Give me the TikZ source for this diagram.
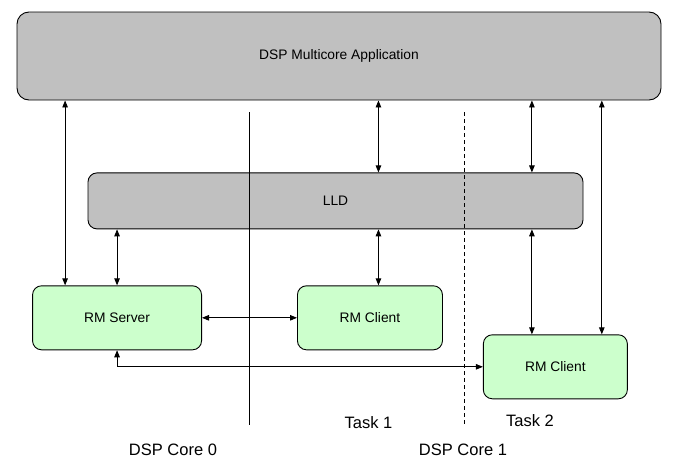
\documentclass[tikz,border=0pt]{standalone}
\usepackage{fontspec}
\setmainfont{Liberation Sans}
\usepackage{tikz}
\usetikzlibrary{positioning}
\usetikzlibrary{arrows.meta}
\tikzset{>={Triangle[width=5.5pt,length=7pt]}}
\definecolor{boxgray}{HTML}{C0C0C0}
\definecolor{boxgreen}{HTML}{CCFFCC}

\begin{document}
\begin{tikzpicture}[x=1pt, y=-1pt, line width=0.9pt, graynode/.style={rectangle, rounded corners=12pt, draw=black, fill=boxgray, inner sep=0pt, font=\fontsize{13.8}{16}\selectfont}, greennode/.style={rectangle, rounded corners=9pt, draw=black, fill=boxgreen, inner sep=0pt, minimum height=64pt, font=\fontsize{13.8}{16}\selectfont}, emptynode/.style={draw=none, fill=none, inner sep=0pt, font=\fontsize{16.5}{20}\selectfont}]
    \useasboundingbox (0,0) rectangle (676,469);

    %Nodes
    \node[graynode, minimum width=644pt, minimum height=88pt](app) at (339,56){DSP Multicore Application};
    \node[graynode, rounded corners=9pt, minimum width=495pt, minimum height=56pt](lld)[below=72pt of app, xshift=-3.5pt]{LLD};
    \node[greennode, minimum width=169pt](server)[below=56pt of lld.south west, xshift=29.5pt]{RM Server};
    \node[greennode, minimum width=145pt](client)[right=95pt of server]{RM Client};
    \node[greennode, minimum width=144pt](client2)[right=40pt of client, yshift=-49pt]{RM Client};
    \node[emptynode](task1) at (368.5,423){Task 1};
    \node[emptynode](task2) at (530,421){Task 2};
    \node[emptynode](core0) at (173,450){DSP Core 0};
    \node[emptynode](core1) at (463,450){DSP Core 1};

    %Coordinates
    \coordinate (srvA) at ([xshift=33pt]server.north west);
    \coordinate (cliA) at ([xshift=8.5pt]client.north);
    \coordinate (cliB) at ([xshift=49pt]client2.north west);
    \coordinate (cliC) at ([xshift=-26pt]client2.north east);
    \coordinate (core0top) at (249,112);
    \coordinate (core1top) at (464,112);

    %Lines
    \draw[<->] (app.south -| srvA) -- (srvA);
    \draw[<->] (lld.south -| server.north) -- (server.north);
    \draw[<->] (app.south -| cliA) -- (lld.north -| cliA);
    \draw[<->] (lld.south -| cliA) -- (cliA);
    \draw[<->] (app.south -| cliB) -- (lld.north -| cliB);
    \draw[<->] (lld.south -| cliB) -- (cliB);
    \draw[<->] (app.south -| cliC) -- (cliC);
    \draw[<->] (server.east) -- (client.west);
    \draw[<->] (server.south) |- (client2.west);

    %Dividers
    \draw (core0top) -- ++(0,313);
    \draw[dash pattern=on 4pt off 3pt] (core1top) -- ++(0,312);

\end{tikzpicture}
\end{document}
